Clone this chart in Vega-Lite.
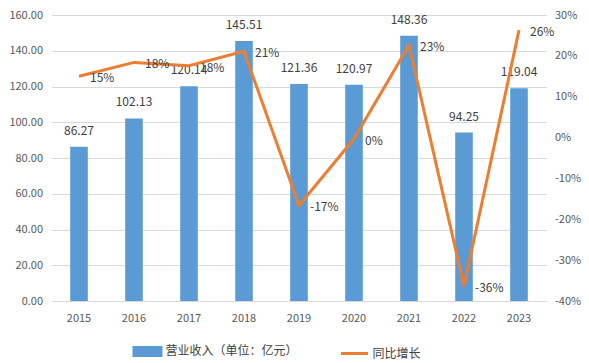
{
  "$schema": "https://vega.github.io/schema/vega-lite/v6.json",
  "autosize": {"type": "none"},
  "width": 495,
  "height": 286,
  "padding": {"left": 51.5, "top": 15, "right": 42.5, "bottom": 62},
  "background": "white",
  "config": {
    "font": "Noto Sans CJK SC",
    "view": {"stroke": null},
    "locale": {"number": {"decimal": ".", "thousands": ",", "grouping": [3], "currency": ["$", ""], "minus": "-"}}
  },
  "data": {
    "values": [
      {"year": "2015", "revenue": 86.27, "growth": 0.15},
      {"year": "2016", "revenue": 102.13, "growth": 0.184},
      {"year": "2017", "revenue": 120.14, "growth": 0.176},
      {"year": "2018", "revenue": 145.51, "growth": 0.211},
      {"year": "2019", "revenue": 121.36, "growth": -0.166},
      {"year": "2020", "revenue": 120.97, "growth": -0.003},
      {"year": "2021", "revenue": 148.36, "growth": 0.226},
      {"year": "2022", "revenue": 94.25, "growth": -0.364},
      {"year": "2023", "revenue": 119.04, "growth": 0.263}
    ]
  },
  "encoding": {
    "x": {
      "field": "year", "type": "ordinal",
      "scale": {"paddingInner": 0.68, "paddingOuter": 0.34},
      "axis": {"title": null, "labelAngle": 0, "ticks": false, "domainColor": "#D9D9D9", "labelColor": "#595959", "labelFontSize": 11, "labelPadding": 11}
    }
  },
  "layer": [
    {
      "encoding": {
        "y": {
          "field": "revenue", "type": "quantitative",
          "scale": {"domain": [0, 160], "nice": false},
          "axis": {"title": null, "values": [0, 20, 40, 60, 80, 100, 120, 140, 160], "format": ".2f", "labelOverlap": false, "domain": false, "ticks": false, "labelColor": "#595959", "labelFontSize": 11, "labelPadding": 9, "gridColor": "#D9D9D9"}
        }
      },
      "layer": [
        {
          "mark": {"type": "bar", "color": "#5B9BD5"},
          "encoding": {
            "color": {
              "datum": "营业收入（单位：亿元）",
              "type": "nominal",
              "scale": {"domain": ["营业收入（单位：亿元）", "同比增长"], "range": ["#5B9BD5", "#ED7D31"]},
              "legend": {
                "title": null,
                "orient": "none",
                "legendX": 81,
                "legendY": 321,
                "direction": "horizontal",
                "columns": 2,
                "columnPadding": 36,
                "labelFontSize": 12,
                "labelColor": "#404040",
                "labelOffset": 3,
                "symbolSize": 729,
                "symbolStrokeWidth": 3,
                "encode": {
                  "symbols": {
                    "update": {
                      "shape": {"signal": "datum.value === '同比增长' ? 'stroke' : 'M-1,-0.3H1V0.3H-1Z'"},
                      "fill": {"signal": "datum.value === '同比增长' ? 'transparent' : '#5B9BD5'"},
                      "stroke": {"signal": "datum.value === '同比增长' ? '#ED7D31' : 'transparent'"},
                      "strokeWidth": {"value": 3}
                    }
                  }
                }
              }
            }
          }
        },
        {
          "mark": {"type": "text", "baseline": "bottom", "dy": -9, "fontSize": 12, "color": "#404040"},
          "encoding": {
            "text": {"field": "revenue", "type": "quantitative", "format": ".2f"}
          }
        }
      ]
    },
    {
      "encoding": {
        "y": {
          "field": "growth", "type": "quantitative",
          "scale": {"domain": [-0.4, 0.3], "nice": false, "zero": false},
          "axis": {"title": null, "orient": "right", "values": [-0.4, -0.3, -0.2, -0.1, 0, 0.1, 0.2, 0.3], "format": ".0%", "labelOverlap": false, "grid": false, "domain": false, "ticks": false, "labelColor": "#595959", "labelFontSize": 11, "labelPadding": 8}
        }
      },
      "layer": [
        {
          "mark": {"type": "line", "color": "#ED7D31", "strokeWidth": 3},
          "encoding": {
            "color": {"datum": "同比增长", "type": "nominal"}
          }
        },
        {
          "mark": {"type": "text", "align": "left", "baseline": "middle", "dx": 11, "dy": 2, "fontSize": 12, "color": "#404040"},
          "encoding": {
            "text": {"field": "growth", "type": "quantitative", "format": ".0%"}
          }
        }
      ]
    }
  ],
  "resolve": {"scale": {"y": "independent"}}
}
